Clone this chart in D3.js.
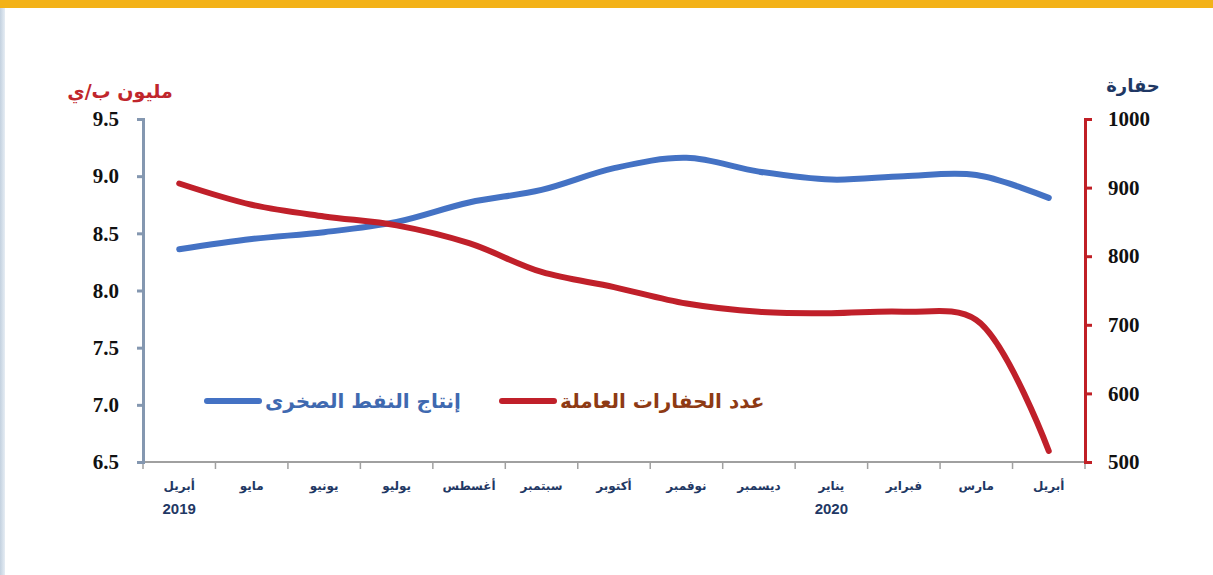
<!DOCTYPE html>
<html>
<head>
  <meta charset="utf-8">
  <script src="https://d3js.org/d3.v7.min.js"></script>
  <style>
    body { margin: 0; background: #fff; }
    .tick text.num { font-family: "Liberation Serif", serif; font-weight: bold; font-size: 21px; fill: #111; }
    .month { font-family: "DejaVu Sans", sans-serif; font-weight: bold; font-size: 12px; fill: #1f3864; }
    .year { font-family: "Liberation Sans", Arial, sans-serif; font-weight: bold; font-size: 15px; fill: #1f3864; }
    .ar { font-family: "DejaVu Sans", sans-serif; font-weight: bold; }
  </style>
</head>
<body>
  <div id="chart"></div>
  <script>

    // months, April 2019 .. April 2020
    let months = ["أبريل", "مايو", "يونيو", "يوليو", "أغسطس", "سبتمبر", "أكتوبر",
                  "نوفمبر", "ديسمبر", "يناير", "فبراير", "مارس", "أبريل"];
    let years = [{index: 0, label: "2019"}, {index: 9, label: "2020"}];

    // shale oil production, million b/d (left axis)
    let oil = [8.36, 8.45, 8.51, 8.60, 8.77, 8.88, 9.07, 9.16, 9.04, 8.97, 9.00, 9.01, 8.81];
    // active rigs (right axis)
    let rigs = [906, 875, 858, 845, 819, 777, 755, 731, 719, 717, 719, 707, 516];

    let leftTicks = [6.5, 7.0, 7.5, 8.0, 8.5, 9.0, 9.5];
    let rightTicks = [500, 600, 700, 800, 900, 1000];

    let width = 1213, height = 575;
    let margin = {top: 119, left: 143, right: 128, bottom: 113};

    let svg = d3.select("#chart").append("svg")
      .attr("width", width)
      .attr("height", height);

    // frame decorations
    svg.append("rect").attr("x", 0).attr("y", 0).attr("width", width).attr("height", 8).attr("fill", "#f3b218");
    let grad = svg.append("defs").append("linearGradient").attr("id", "edge");
    grad.append("stop").attr("offset", "0%").attr("stop-color", "#c3d1df");
    grad.append("stop").attr("offset", "100%").attr("stop-color", "#e6edf4");
    svg.append("rect").attr("x", 0).attr("y", 8).attr("width", 5).attr("height", height - 8).attr("fill", "url(#edge)");

    /* SCALES */
    let xScale = d3.scaleBand()
      .domain(d3.range(months.length))
      .range([margin.left, width - margin.right]);

    let yLeft = d3.scaleLinear()
      .domain([6.5, 9.5])
      .range([height - margin.bottom, margin.top]);

    let yRight = d3.scaleLinear()
      .domain([500, 1000])
      .range([height - margin.bottom, margin.top]);

    let cx = function(i) { return xScale(i) + xScale.bandwidth() / 2; };

    /* X AXIS */
    let xAxis = svg.append("g")
      .attr("transform", `translate(0, ${height - margin.bottom})`);
    xAxis.append("line")
      .attr("x1", margin.left).attr("x2", width - margin.right)
      .attr("stroke", "#a0a0a0").attr("stroke-width", 2);
    xAxis.selectAll("line.tk")
      .data(d3.range(months.length + 1))
      .enter().append("line")
        .attr("class", "tk")
        .attr("x1", function(d) { return d < months.length ? xScale(d) : width - margin.right; })
        .attr("x2", function(d) { return d < months.length ? xScale(d) : width - margin.right; })
        .attr("y1", 0).attr("y2", 7)
        .attr("stroke", "#a0a0a0").attr("stroke-width", 1.5);
    xAxis.selectAll("text.month")
      .data(months)
      .enter().append("text")
        .attr("class", "month")
        .attr("x", function(d, i) { return cx(i); })
        .attr("y", 28)
        .attr("text-anchor", "middle")
        .text(function(d) { return d; });
    xAxis.selectAll("text.year")
      .data(years)
      .enter().append("text")
        .attr("class", "year")
        .attr("x", function(d) { return cx(d.index); })
        .attr("y", 52)
        .attr("text-anchor", "middle")
        .text(function(d) { return d.label; });

    /* LEFT AXIS */
    let leftAxis = svg.append("g")
      .attr("transform", `translate(${margin.left},0)`)
      .call(d3.axisLeft(yLeft).tickValues(leftTicks).tickFormat(d3.format(".1f")).tickSize(6).tickPadding(18));
    leftAxis.select(".domain").attr("stroke", "#8497b0").attr("stroke-width", 3);
    leftAxis.selectAll(".tick line").attr("stroke", "#8497b0").attr("stroke-width", 3);
    leftAxis.selectAll(".tick text").attr("class", "num").attr("font-family", null).attr("font-size", null);

    /* RIGHT AXIS */
    let rightAxis = svg.append("g")
      .attr("transform", `translate(${width - margin.right},0)`)
      .call(d3.axisRight(yRight).tickValues(rightTicks).tickFormat(d3.format("d")).tickSize(7).tickPadding(16));
    rightAxis.select(".domain").attr("stroke", "#c01f26").attr("stroke-width", 3);
    rightAxis.selectAll(".tick line").attr("stroke", "#c01f26").attr("stroke-width", 3);
    rightAxis.selectAll(".tick text").attr("class", "num").attr("font-family", null).attr("font-size", null);

    /* AXIS TITLES */
    svg.append("text").attr("class", "ar")
      .attr("x", 120).attr("y", 98).attr("text-anchor", "middle")
      .attr("font-size", 19).attr("fill", "#c0262c")
      .text("مليون ب/ي");
    svg.append("text").attr("class", "ar")
      .attr("x", 1133).attr("y", 92).attr("text-anchor", "middle")
      .attr("font-size", 18).attr("fill", "#1f3864")
      .text("حفارة");

    /* LINES */
    let oilLine = d3.line()
      .x(function(d, i) { return cx(i); })
      .y(function(d) { return yLeft(d); })
      .curve(d3.curveCatmullRom.alpha(0.5));

    let rigLine = d3.line()
      .x(function(d, i) { return cx(i); })
      .y(function(d) { return yRight(d); })
      .curve(d3.curveCatmullRom.alpha(0.5));

    svg.append("path").datum(oil)
      .attr("d", oilLine)
      .attr("fill", "none").attr("stroke", "#4472c4").attr("stroke-width", 6).attr("stroke-linecap", "round");

    svg.append("path").datum(rigs)
      .attr("d", rigLine)
      .attr("fill", "none").attr("stroke", "#c0202a").attr("stroke-width", 6).attr("stroke-linecap", "round");

    /* LEGEND */
    let legend = [
      {label: "إنتاج النفط الصخرى", color: "#4472c4", text: "#3f69b0", x: 207},
      {label: "عدد الحفارات العاملة", color: "#c0202a", text: "#8e3a14", x: 502}
    ];
    let lg = svg.selectAll("g.legend")
      .data(legend)
      .enter().append("g")
        .attr("class", "legend")
        .attr("transform", function(d) { return `translate(${d.x}, 401)`; });
    lg.append("line")
      .attr("x1", 0).attr("x2", 52)
      .attr("stroke", function(d) { return d.color; })
      .attr("stroke-width", 6).attr("stroke-linecap", "round");
    lg.append("text").attr("class", "ar")
      .attr("x", 58).attr("y", 7)
      .attr("font-size", 20)
      .attr("text-anchor", "start")
      .attr("fill", function(d) { return d.text; })
      .text(function(d) { return d.label; });

  </script>
</body>
</html>
